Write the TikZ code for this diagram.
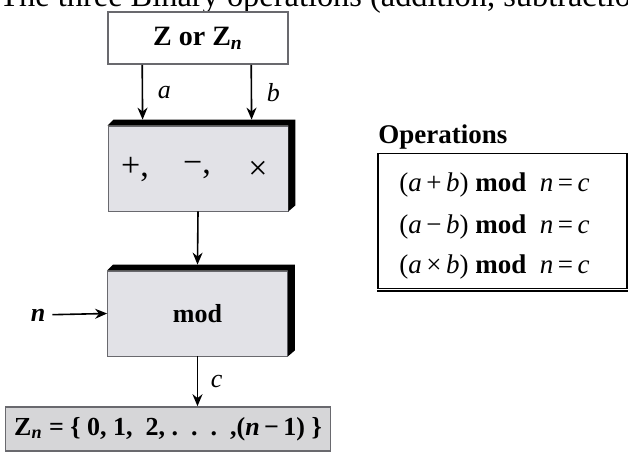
\documentclass[tikz,border=0pt]{standalone}
\usepackage{amsmath, amssymb}
\usepackage{fontspec}
\setmainfont{Liberation Serif}
\usepackage{tikz}
\usetikzlibrary{
arrows.meta,
positioning,
calc
}
\definecolor{modgray}{RGB}{226,226,231}
\definecolor{setgray}{RGB}{214,214,216}
\definecolor{edgegray}{RGB}{105,105,110}

\begin{document}
\begin{tikzpicture}[
  x=0.5pt, y=-0.5pt,
  >={Stealth[length=6pt,width=5pt]},
  every node/.style={font=\normalsize},
  srcbox/.style={draw=edgegray, thick, fill=white, minimum width=90pt,
    minimum height=26pt, inner sep=0pt, font=\fontsize{14}{16}\selectfont},
  opblock/.style={draw=edgegray, fill=modgray, minimum width=90pt,
    minimum height=42.5pt, inner sep=0pt, font=\fontsize{13}{15}\selectfont},
  setbox/.style={draw=edgegray, thick, fill=setgray, minimum width=162.5pt,
    minimum height=22pt, inner sep=0pt, font=\fontsize{13}{15}\selectfont\bfseries},
  eqline/.style={anchor=west, inner sep=0pt, font=\fontsize{13.5}{15}\selectfont},
  varlab/.style={font=\fontsize{13}{15}\selectfont\itshape}
]

\useasboundingbox (0,0) rectangle (628,459);
\clip (0,0) rectangle (628,459);

%% ── TITLE (cut by the frame) ────────────────────────────────────
\node[anchor=base west, inner sep=0pt, font=\fontsize{16.2}{18}\selectfont]
  (title) at (-1,7) {The three Binary operations (addition, subtraction};

%% ── BLOCKS ──────────────────────────────────────────────────────
\node[srcbox] (src) at (198,38) {\textbf{Z or Z\textsubscript{\textit{n}}}};

\node[opblock] (arith) at (198,168.5) {};
\node[font=\fontsize{17}{19}\selectfont] at (135,170) (plus) {+,};
\node[font=\fontsize{17}{19}\selectfont] at (197,170) (minus) {−,};
\node[font=\fontsize{17}{19}\selectfont] at (258,170) (times) {×};

\node[opblock] (modbox) at (197.5,313.5) {\textbf{mod}};

%% black top and right faces of the two blocks
\foreach \b in {arith, modbox}{
  \fill[black] (\b.north west) -- ++(6,-6)
    -- ($(\b.north east)+(7,-6)$) -- ($(\b.south east)+(7,-6)$)
    -- (\b.south east) -- (\b.north east) -- cycle;
}

\node[setbox] (zset) at (168,429)
  {Z\textsubscript{\textit{n}} = \{ 0, 1,\ \ 2,\ .\ \ .\ \ .\ \ ,(\textit{n}\,−\,1) \}};

%% ── INPUTS AND OUTPUTS ──────────────────────────────────────────
\draw[->, thick] ([xshift=17.5pt]src.south west)
  -- ([xshift=17.5pt, yshift=3pt]arith.north west)
  node[midway, right=4pt, varlab] {a};
\draw[->, thick] ([xshift=72pt]src.south west)
  -- ([xshift=72pt, yshift=3pt]arith.north west)
  node[midway, right=4pt, varlab] {b};
\draw[->, thick] (arith.south) -- ([yshift=3pt]modbox.north);

\node[varlab, font=\fontsize{13}{15}\selectfont\bfseries\itshape] (nin) at (38,315) {n};
\draw[->, thick] (nin) -- (modbox.west);

\draw[->, thick] (modbox.south) -- (modbox.south |- zset.north)
  node[midway, right=3pt, varlab] {c};

%% ── OPERATIONS TABLE ────────────────────────────────────────────
\node[anchor=base west, inner sep=0pt, font=\fontsize{13.5}{16}\selectfont\bfseries]
  (optitle) at (378,144) {Operations};
\node[draw=black, thick, fill=white, minimum width=124.5pt,
  minimum height=67.5pt, inner sep=0pt] (opbox) at (502.5,221) {};
\draw[line width=1.2pt] ([xshift=1pt]opbox.north east)
  -- ([xshift=1pt, yshift=-1pt]opbox.south east)
  -- ([yshift=-1pt]opbox.south west);
\node[eqline] (eqadd) at (399,185) {(\textit{a}\,+\,\textit{b}) \textbf{mod}\ \ \textit{n}\,=\,\textit{c}};
\node[eqline] (eqsub) at (399,227) {(\textit{a}\,−\,\textit{b}) \textbf{mod}\ \ \textit{n}\,=\,\textit{c}};
\node[eqline] (eqmul) at (399,267) {(\textit{a}\,×\,\textit{b}) \textbf{mod}\ \ \textit{n}\,=\,\textit{c}};

\end{tikzpicture}
\end{document}
